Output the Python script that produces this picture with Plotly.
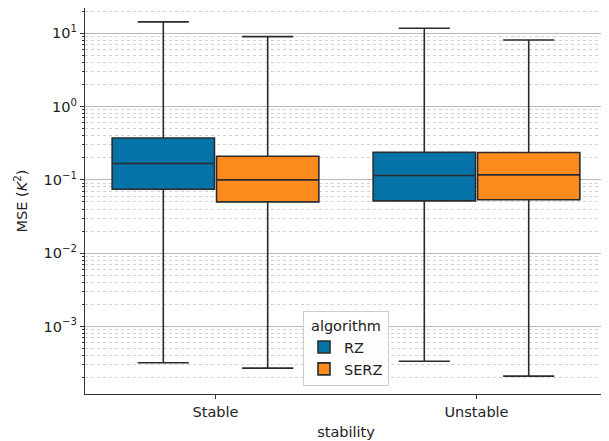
import plotly.graph_objects as go

categories = ["Stable", "Unstable"]
algorithms = ["RZ", "SERZ"]
colors = ["#0673a8", "#fd8a1c"]

# per algorithm: values for [Stable, Unstable]
lower = {"RZ": [3.2e-4, 3.35e-4], "SERZ": [2.7e-4, 2.1e-4]}
q1 = {"RZ": [0.0745, 0.0517], "SERZ": [0.050, 0.0535]}
median = {"RZ": [0.167, 0.1145], "SERZ": [0.100, 0.117]}
q3 = {"RZ": [0.372, 0.238], "SERZ": [0.210, 0.236]}
upper = {"RZ": [14.3, 11.7], "SERZ": [9.0, 8.1]}

ytick_vals = [1e-3, 1e-2, 1e-1, 1e0, 1e1]
ytick_text = ["10<sup>−3</sup>", "10<sup>−2</sup>", "10<sup>−1</sup>", "10<sup>0</sup>", "10<sup>1</sup>"]

FONT = "DejaVu Sans"
fig = go.Figure()
for alg, col in zip(algorithms, colors):
    fig.add_trace(go.Box(
        name=alg,
        x=categories,
        q1=q1[alg], median=median[alg], q3=q3[alg],
        lowerfence=lower[alg], upperfence=upper[alg],
        fillcolor=col,
        line=dict(color="#2b2b2b", width=1.6),
        whiskerwidth=0.5,
        boxpoints=False,
        offsetgroup=alg,
    ))

fig.update_layout(
    width=601, height=433,
    margin=dict(l=77, r=2, t=0, b=47),
    paper_bgcolor="white", plot_bgcolor="white",
    boxmode="group", boxgap=0.2, boxgroupgap=0.02,
    font=dict(family=FONT, size=14, color="#222"),
    legend=dict(
        title=dict(text="algorithm", side="top center", font=dict(size=14.5)),
        x=0.5, y=0.02, xanchor="center", yanchor="bottom",
        bgcolor="rgba(255,255,255,0.85)", bordercolor="#cccccc", borderwidth=1,
        font=dict(size=14.5),
    ),
    xaxis=dict(
        title=dict(text="stability", standoff=8, font=dict(size=14.5)),
        automargin=False,
        range=[-0.5, 1.5],
        showline=True, linecolor="#333", linewidth=1.2, mirror=True,
        ticks="outside", ticklen=4, tickcolor="#333",
        tickfont=dict(size=14.5),
        showgrid=False,
    ),
    yaxis=dict(
        type="log",
        title=dict(text="MSE (<i>K</i><sup>2</sup>)", standoff=12, font=dict(size=14.5)),
        automargin=False,
        range=[-3.922, 1.345],
        tickvals=ytick_vals, ticktext=ytick_text,
        tickfont=dict(size=14.5),
        showline=True, linecolor="#333", linewidth=1.2, mirror=True,
        ticks="outside", ticklen=4, tickcolor="#333",
        showgrid=True, gridcolor="#b8b8b8", gridwidth=1,
        zeroline=False,
        minor=dict(dtick="D1", showgrid=True, gridcolor="#d0d0d0", griddash="dot", gridwidth=1,
                   ticks="outside", ticklen=2, tickcolor="#333"),
    ),
)

fig.write_html("out.html")
